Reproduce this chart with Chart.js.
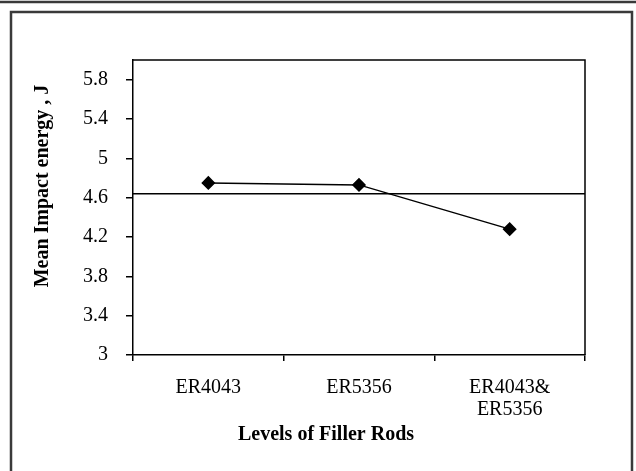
<!DOCTYPE html>
<html>
<head>
<meta charset="utf-8">
<script src="https://cdn.jsdelivr.net/npm/chart.js@4"></script>
<style>
  html, body { margin: 0; padding: 0; background: #fff; }
  #wrap { width: 636px; height: 471px; position: relative; }
</style>
</head>
<body>
<div id="wrap"><canvas id="c" width="636" height="471"></canvas></div>
<script>
// ---- data ----
const categories = [["ER4043"], ["ER5356"], ["ER4043&", "ER5356"]];
const meanImpactEnergy = [4.75, 4.73, 4.28];
const grandMean = 4.64;
const yTickValues = [3, 3.4, 3.8, 4.2, 4.6, 5, 5.4, 5.8];
const yTitle = "Mean Impact energy , J";
const xTitle = "Levels of Filler Rods";

const FONT = "'Liberation Serif', 'Times New Roman', serif";

const framePlugin = {
  id: 'frames',
  beforeDraw(chart) {
    const ctx = chart.ctx;
    ctx.save();
    ctx.fillStyle = '#fff';
    ctx.fillRect(0, 0, chart.width, chart.height);
    ctx.strokeStyle = '#3a3a3a';
    ctx.lineWidth = 2.5;
    ctx.beginPath();
    ctx.moveTo(0, 2); ctx.lineTo(636, 2);
    ctx.stroke();
    ctx.beginPath();
    ctx.moveTo(11, 480); ctx.lineTo(11, 12); ctx.lineTo(632, 12); ctx.lineTo(632, 480);
    ctx.stroke();
    ctx.restore();
  },
  afterDatasetsDraw(chart) {
    const ctx = chart.ctx;
    const a = chart.chartArea;
    const y = chart.scales.y;
    ctx.save();
    ctx.strokeStyle = '#000';
    ctx.lineWidth = 1.5;
    ctx.beginPath();
    ctx.moveTo(a.left, a.top); ctx.lineTo(a.right, a.top); ctx.lineTo(a.right, a.bottom);
    ctx.stroke();
    const gy = y.getPixelForValue(grandMean);
    ctx.beginPath();
    ctx.moveTo(a.left, gy); ctx.lineTo(a.right, gy);
    ctx.stroke();
    ctx.fillStyle = '#000';
    ctx.font = "bold 20px " + FONT;
    ctx.textAlign = 'center';
    ctx.textBaseline = 'middle';
    ctx.fillText(xTitle, (a.left + a.right) / 2 - 33, 435);
    ctx.translate(43, 186);
    ctx.rotate(-Math.PI / 2);
    ctx.fillText(yTitle, 0, 0);
    ctx.restore();
  }
};

new Chart(document.getElementById('c'), {
  type: 'line',
  data: {
    labels: categories,
    datasets: [{
      data: meanImpactEnergy,
      borderColor: '#000',
      borderWidth: 1.5,
      backgroundColor: '#000',
      pointStyle: 'rectRot',
      pointRadius: 6,
      pointHoverRadius: 6,
      fill: false,
      tension: 0
    }]
  },
  options: {
    responsive: false,
    animation: false,
    devicePixelRatio: 1,
    layout: { padding: { left: 0, top: 60, right: 51, bottom: 0 } },
    plugins: { legend: { display: false }, tooltip: { enabled: false } },
    scales: {
      x: {
        type: 'category',
        offset: true,
        afterFit(s) { s.height = 116; },
        grid: { offset: true, drawOnChartArea: false, drawTicks: true, tickLength: 6, color: '#000', lineWidth: 1.5 },
        border: { display: true, color: '#000', width: 1.5 },
        ticks: { color: '#000', font: { family: FONT, size: 20, lineHeight: 1.1 }, padding: 16, maxRotation: 0, autoSkip: false }
      },
      y: {
        min: 3,
        max: 6,
        afterFit(s) { s.width = 133; },
        afterBuildTicks(s) { s.ticks = yTickValues.map(v => ({ value: v })); },
        grid: { drawOnChartArea: false, drawTicks: true, tickLength: 7, color: '#000', lineWidth: 1.5 },
        border: { display: true, color: '#000', width: 1.5 },
        ticks: { color: '#000', font: { family: FONT, size: 20 }, padding: 18, callback: v => String(Math.round(v * 10) / 10) }
      }
    }
  },
  plugins: [framePlugin]
});
</script>
</body>
</html>
